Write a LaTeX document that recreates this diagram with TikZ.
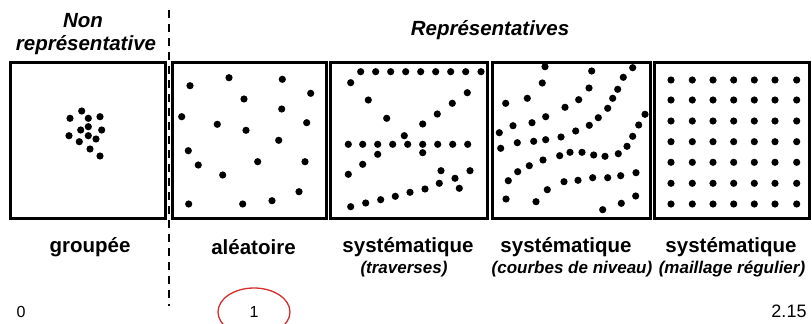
\documentclass[tikz,border=0pt]{standalone}
\usepackage{fontspec}
\setmainfont{Liberation Sans}
\definecolor{markred}{RGB}{215,45,45}
\tikzset{
  panel/.style={draw=black, line width=3pt, minimum height=156pt, inner sep=0pt},
  pt/.style={fill=black},
  mainlab/.style={font=\fontsize{20.5}{23}\selectfont\bfseries, inner sep=0pt},
  sublab/.style={font=\fontsize{17}{20}\selectfont\bfseries\itshape, inner sep=0pt},
  headlab/.style={font=\fontsize{20.5}{23}\selectfont\bfseries\itshape, inner sep=0pt},
  numlab/.style={font=\fontsize{16}{19}\selectfont, inner sep=0pt},
  sep/.style={draw=black, line width=2.2pt, dash pattern=on 8pt off 6pt}
}
\begin{document}
\begin{tikzpicture}[x=1pt,y=-1pt]
\useasboundingbox (0,0) rectangle (812,324);
\fill[white] (0,0) rectangle (812,324);

% panels
\node[panel, minimum width=155pt] (b1) at (87.5,140) {};
\node[panel, minimum width=154pt] (b2) at (249,140) {};
\node[panel, minimum width=157pt] (b3) at (408.5,140) {};
\node[panel, minimum width=158pt] (b4) at (571,140) {};
\node[panel, minimum width=155pt] (b5) at (731.5,140) {};

% separator
\coordinate (st) at (169,10);
\coordinate (sb) at (169,306);
\draw[sep] (st) -- (sb);

% headings
\node[headlab] (h1) at (83,21) {Non};
\node[headlab] (h2) at (86,45) {représentative};
\node[headlab] (h3) at (490,30) {Représentatives};

% panel 1: grouped
\foreach \x/\y in {70/118.3, 81.7/111, 88.3/118.3, 100/116.7, 88.3/126.7, 80.7/130, 101.7/130,
  69/135.7, 88.3/135.7, 96/139, 79.3/141.7, 90/149, 100/156}
  \fill[pt] (\x,\y) circle (3.6pt);

% panel 2: random
\foreach \x/\y in {190/85.7, 229/77.7, 282.3/79.3, 310.7/93.3, 244/99, 281.7/109, 181.7/116.7,
  217.3/124.3, 246/130.3, 306.7/122.7, 278.7/140.3, 188.3/150.7, 198.3/165, 257.7/161.7,
  305/161.7, 222.7/175, 299/191.7, 188.7/204, 242.7/204, 272/200.7}
  \fill[pt] (\x,\y) circle (3.6pt);

% panel 3: transects
\foreach \x in {360.7,375.7,390.7,405.7,420.7,435.7,450.7,465.7,481}
  \fill[pt] (\x,71.7) circle (3.6pt);
\foreach \x in {348.3,362.7,377.7,392.7,407.7,422.7,437.7,452.7,467.7}
  \fill[pt] (\x,144.3) circle (3.6pt);
\foreach \x/\y in {350.7/82.7, 368.3/100, 386.7/118.3, 404.3/135.7, 422.7/124, 437.3/114,
  452.3/103.3, 467.3/92.7, 377.7/154.3, 422.7/152.7, 362.7/164.3, 348.3/174.3,
  441/170.7, 470/170.7, 455/178.3, 439.3/183.3, 459.3/188.3,
  350.7/206.7, 365.7/203, 380.7/199.7, 395.3/196.3, 410/192.3, 425/189}
  \fill[pt] (\x,\y) circle (3.6pt);

% panel 4: contour lines
\foreach \x/\y in {545/66.7, 542.3/83, 591.7/71, 632.7/67.7, 623.3/77.3, 589/88, 617.7/89.3,
  612.7/98.3, 505.7/103.3, 527.3/98.3, 578.7/99.7, 565/107.3, 607.7/108.3, 545.7/116.7,
  598.3/117.7, 645/114.3, 532/122.7, 513/125.7, 589.3/125.3, 638.7/125, 499.3/132.7,
  575.7/131, 561/137, 632.7/136.3, 545.7/139.7, 533.7/141.3, 517.3/142.7, 500.7/148.3,
  627/146.3, 559.7/155.7, 570/152.3, 582/152.3, 593.7/155, 605/156.3, 618.3/153.7,
  543/160, 529.3/165.7, 517.7/171.7, 508.3/180.7, 547.3/189.7, 564/181.7, 578/180.3,
  592.7/177.7, 607.7/177.7, 620.7/175.7, 636/172.7, 506/199, 536/201.7, 602.7/209.7,
  621.3/203.3, 635.7/196}
  \fill[pt] (\x,\y) circle (3.6pt);

% panel 5: regular grid
\foreach \x in {671,692.3,713,733.7,754.3,775,796.7}
  \foreach \y in {80,100,121,141.7,162.3,183.3,204}
    \fill[pt] (\x,\y) circle (3.6pt);

% labels
\node[mainlab] (l1) at (90,247) {groupée};
\node[mainlab] (l2) at (253.5,247) {aléatoire};
\node[mainlab] (l3) at (408,247) {systématique};
\node[sublab]  (s3) at (404,269) {(traverses)};
\node[mainlab] (l4) at (566,247) {systématique};
\node[sublab]  (s4) at (572,269) {(courbes de niveau)};
\node[mainlab] (l5) at (731,247) {systématique};
\node[sublab]  (s5) at (732,269) {(maillage régulier)};

% scale numbers
\node[numlab] (n0) at (21,312) {0};
\node[numlab] (n1) at (254,312) {1};
\node[numlab, font=\fontsize{18}{21}\selectfont] (n2) at (789,311) {2.15};
\draw[markred, line width=1.3pt] (n1) ellipse (36pt and 24pt);
\end{tikzpicture}
\end{document}
